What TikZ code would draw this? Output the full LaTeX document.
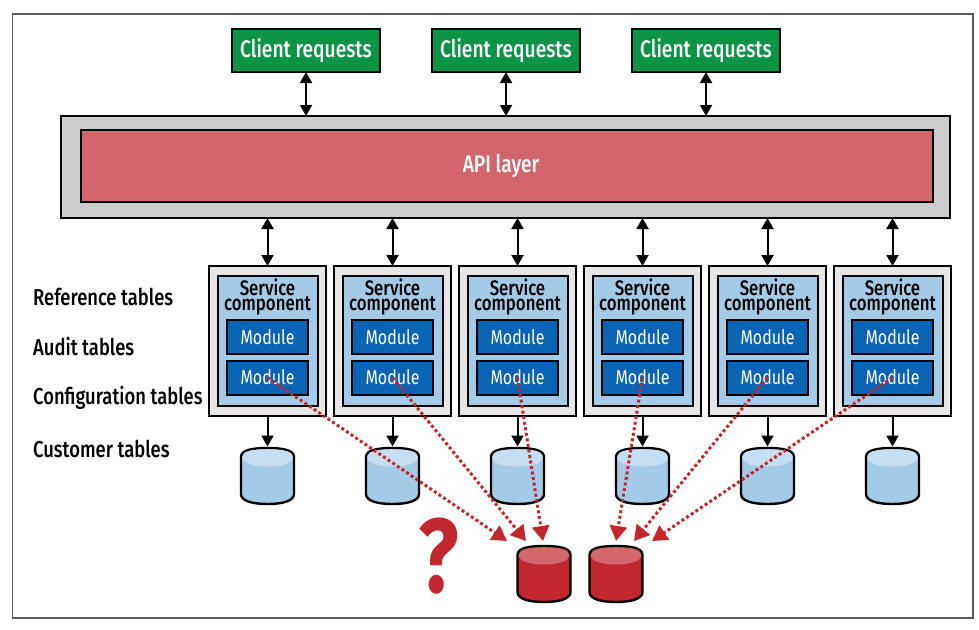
\documentclass[tikz,border=0pt]{standalone}
\usepackage{fontspec}
\setmainfont[FakeStretch=.8]{Fira Sans Medium}
\newfontfamily\lightfont[FakeStretch=.8]{Fira Sans}
\usetikzlibrary{arrows.meta,positioning}
\definecolor{greenbox}{HTML}{0B9444}
\definecolor{redlayer}{HTML}{D2666B}
\definecolor{graylayer}{HTML}{CCCCCC}
\definecolor{graysvc}{HTML}{E6E6E6}
\definecolor{bluesvc}{HTML}{A3CBE8}
\definecolor{bluemod}{HTML}{0B63B4}
\definecolor{bluetop}{HTML}{C6DEF1}
\definecolor{redcyl}{HTML}{C1272D}
\definecolor{redtop}{HTML}{D2666B}
\tikzset{
  box/.style={draw=black,line width=2pt,rectangle,inner sep=0pt,outer sep=0pt},
  sized/.style 2 args={minimum width=#1,minimum height=#2},
  client/.style={box,fill=greenbox,sized={148pt}{43pt},text=white,font=\fontsize{24}{26}\selectfont},
  module/.style={box,fill=bluemod,sized={81pt}{34pt},text=white,font=\fontsize{20}{22}\selectfont\lightfont},
  tablelabel/.style={anchor=west,inner sep=0pt,font=\fontsize{23}{25}\selectfont},
  link/.style={line width=2pt,-{Triangle[length=11pt,width=12pt]}},
  biglink/.style={line width=2pt,{Triangle[length=11pt,width=12pt]}-{Triangle[length=11pt,width=12pt]}},
  dotlink/.style={redcyl,line width=3pt,dash pattern=on 3pt off 2.6pt,-{Triangle[length=15pt,width=17pt,fill=redcyl]}},
  pics/dbcan/.style 2 args={code={
    \draw[line width=2.4pt,fill=#1] (-26.5,-19) .. controls (-26.5,-26) and (-15,-28) .. (0,-28)
      .. controls (15,-28) and (26.5,-26) .. (26.5,-19)
      -- (26.5,18) .. controls (26.5,25) and (15,28) .. (0,28)
      .. controls (-15,28) and (-26.5,25) .. (-26.5,18) -- cycle;
    \fill[#2] (-25.3,-19) .. controls (-25.3,-25) and (-15,-26.8) .. (0,-26.8)
      .. controls (15,-26.8) and (25.3,-25) .. (25.3,-19)
      .. controls (25.3,-13) and (15,-9.5) .. (0,-9.5)
      .. controls (-15,-9.5) and (-25.3,-13) .. (-25.3,-19) -- cycle;
  }}
}
\begin{document}
\begin{tikzpicture}[x=1pt,y=-1pt]
\useasboundingbox (0,0) rectangle (979,629);
\fill[white] (0,0) rectangle (979,629);
\node[draw=black!65,line width=1.2pt,minimum width=960.5pt,minimum height=604pt,inner sep=0pt] (frame) at (492.75,316) {};
\node[box,fill=graylayer,sized={889pt}{102pt}] (apiouter) at (505.5,167) {};
\node[box,fill=redlayer,sized={852pt}{72pt}] (api) at (507,166) {};
\node[text=white,font=\fontsize{24}{26}\selectfont] (apilabel) at (501,166) {API layer};
\foreach \n/\x in {1/306,2/506,3/706}{
  \node[client] (client\n) at (\x,50.5) {Client requests};
  \draw[biglink] (client\n.south) -- (client\n.south |- apiouter.north);
}
\foreach \n/\x in {1/267.5,2/392.5,3/517.5,4/642.5,5/767.5,6/892.5}{
  \node[box,fill=graysvc,sized={117pt}{150pt}] (outer\n) at (\x,341) {};
  \node[box,fill=bluesvc,sized={100pt}{130pt}] (svc\n) at (\x,341) {};
  \node[text=black,align=center,inner sep=0pt,font=\fontsize{21}{13.5}\selectfont] (name\n) at (\x,297) {Service\\component};
  \node[module] (moda\n) at (\x,337) {Module};
  \node[module] (modb\n) at (\x,377.5) {Module};
  \pic at (\x,476) {dbcan={bluesvc}{bluetop}};
  \coordinate (db\n) at (\x,446.5);
  \draw[biglink] (outer\n.north) -- (outer\n.north |- apiouter.south);
  \draw[link] (outer\n.south) -- (db\n);
}
\node[tablelabel] (reftab) at (33,297) {Reference tables};
\node[tablelabel] (audtab) at (33,347) {Audit tables};
\node[tablelabel] (conftab) at (33,398) {Configuration tables};
\node[tablelabel] (custtab) at (33,449) {Customer tables};
\pic at (544,574) {dbcan={redcyl}{redtop}};
\pic at (616,574) {dbcan={redcyl}{redtop}};
\node[text=redcyl,font=\fontsize{105}{110}\selectfont\lightfont\bfseries] (quest) at (439,556) {?};
\foreach \n/\x in {1/507,2/526,3/543,4/616,5/634,6/652}{
  \coordinate (tip\n) at (\x,541);
  \draw[dotlink] (modb\n.center) -- (tip\n);
}
\end{tikzpicture}
\end{document}
